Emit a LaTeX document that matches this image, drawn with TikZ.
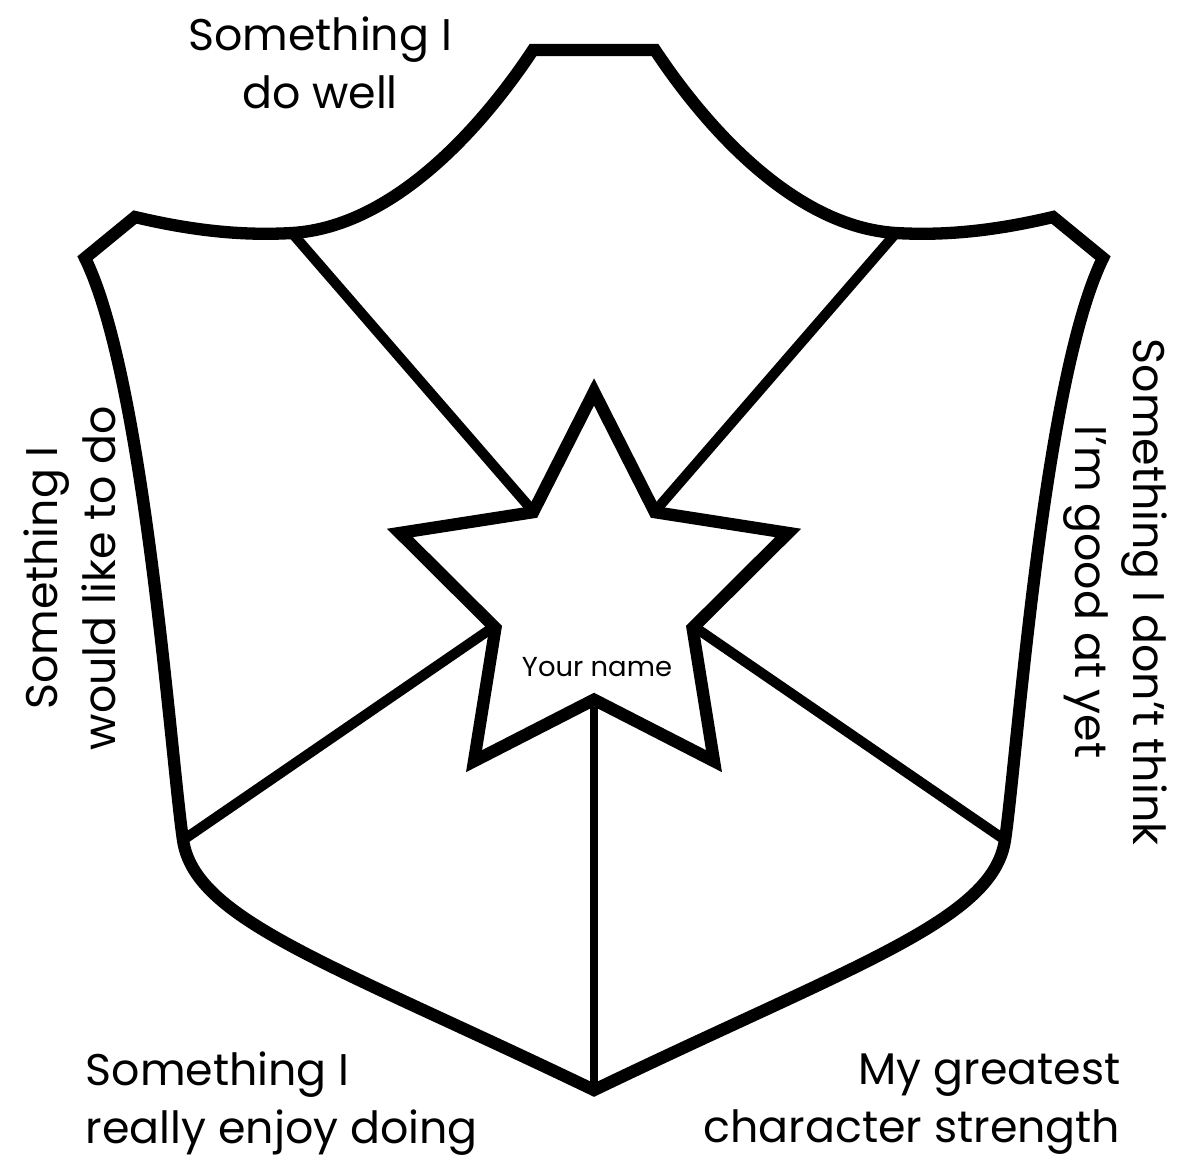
\documentclass[tikz,border=0pt]{standalone}
\usepackage{fontspec}
\setmainfont{Poppins}
\usetikzlibrary{shapes, positioning, calc, backgrounds}

\begin{document}
\begin{tikzpicture}[x=0.01cm, y=-0.01cm]
    \tikzstyle{outline} = [line width=3.5pt, line join=miter]
    \tikzstyle{divider} = [line width=2.9pt]
    \tikzstyle{centreline} = [line width=2.2pt]
    \tikzstyle{prompt} = [font=\fontsize{12.6}{16.5}\selectfont, inner sep=0pt]
    \tikzstyle{namestar} = [star, star points=5, star point ratio=1.97,
                            minimum size=4.08cm, inner sep=0pt, draw,
                            fill=white, line width=3.5pt]

    \useasboundingbox (0,0) rectangle (1179,1162);

    % shield corners and joints
    \coordinate (topL) at (533,50);
    \coordinate (topR) at (655,50);
    \coordinate (shoulderL) at (135,217);
    \coordinate (shoulderR) at (1053,217);
    \coordinate (cornerL) at (85,258);
    \coordinate (cornerR) at (1103,258);
    \coordinate (jointUL) at (292,233);
    \coordinate (jointUR) at (896,233);
    \coordinate (jointLL) at (183,840);
    \coordinate (jointLR) at (1005,840);
    \coordinate (tip) at (594,1090);

    \draw[outline] (topL) -- (topR)
        .. controls (708,130) and (796,227) .. (jointUR)
        .. controls (948,236) and (998,230) .. (shoulderR)
        -- (cornerR)
        .. controls (1043,380) and (1017,760) .. (jointLR)
        .. controls (993,920) and (858,963) .. (tip)
        .. controls (330,963) and (195,920) .. (jointLL)
        .. controls (171,760) and (145,380) .. (cornerL)
        -- (shoulderL)
        .. controls (190,230) and (240,236) .. (jointUL)
        .. controls (392,227) and (480,130) .. (topL) -- cycle;

    \node [namestar] (star) at (594,596) {};
    \node [font=\fontsize{7.8}{9}\selectfont] (nametxt) at (597,667) {Your name};

    \begin{scope}[on background layer]
        \draw[divider] (jointUL) -- (star.inner point 1);
        \draw[divider] (jointUR) -- (star.inner point 5);
        \draw[divider] (jointLL) -- (star.inner point 2);
        \draw[divider] (jointLR) -- (star.inner point 4);
        \draw[centreline] (tip) -- (star.inner point 3);
    \end{scope}

    % the five prompts
    \node [prompt, align=center] (welltxt) at (320,63) {Something I\\do well};
    \node [prompt, align=center, rotate=90] (liketxt) at (70,578) {Something I\\would like to do};
    \node [prompt, align=center, rotate=-90] (yettxt) at (1115,592) {Something I don't think\\I'm good at yet};
    \node [prompt, align=left, anchor=west] (enjoytxt) at (85,1104) {Something I\\really enjoy doing};
    \node [prompt, align=right, anchor=east] (strengthtxt) at (1121,1104) {My greatest\\character strength};
\end{tikzpicture}
\end{document}
